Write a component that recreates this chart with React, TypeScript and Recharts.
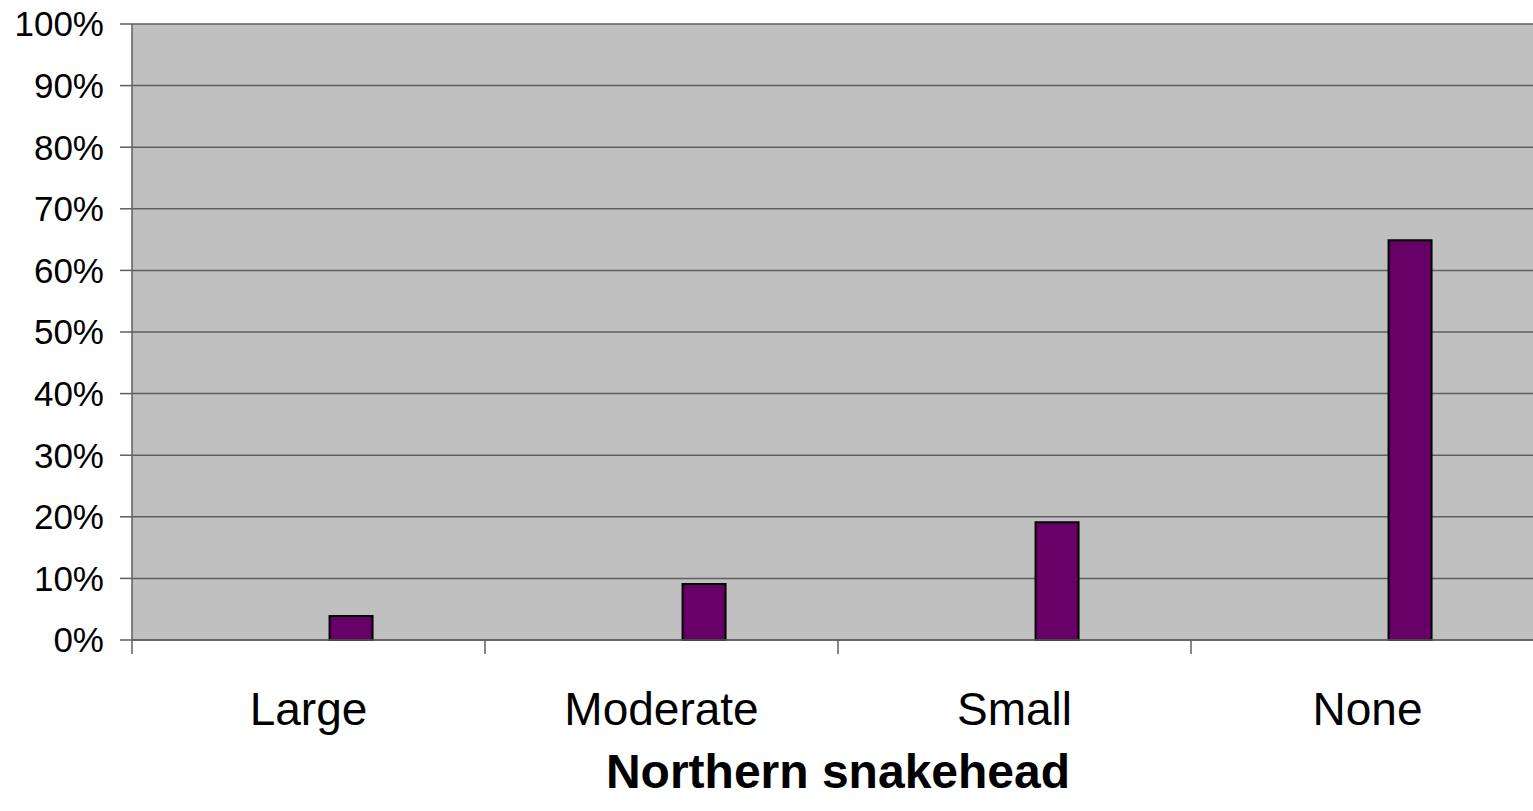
import { Bar, BarChart, CartesianGrid, XAxis, YAxis } from "recharts";

const categories = ["Large", "Moderate", "Small", "None"];
// the original chart reserves two empty series slots before this one
const emptyA: (number | null)[] = [null, null, null, null];
const emptyB: (number | null)[] = [null, null, null, null];
const snakehead = [0.039, 0.091, 0.191, 0.649];
const yTicks = [0, 0.1, 0.2, 0.3, 0.4, 0.5, 0.6, 0.7, 0.8, 0.9, 1];

const data = categories.map((name, i) => ({
  name,
  a: emptyA[i],
  b: emptyB[i],
  value: snakehead[i],
}));

const CHART_W = 1560;
const CHART_H = 811;
const MARGIN = { top: 24, right: 16, left: 0, bottom: 0 };
const Y_W = 132;
const BAND = (CHART_W - MARGIN.left - MARGIN.right - Y_W) / categories.length;
const AXIS = "#5f5f5f";

function CategoryTick({ x, y, payload }: any) {
  return (
    <g>
      <line x1={x - BAND / 2} x2={x - BAND / 2} y1={y} y2={y + 14} stroke={AXIS} strokeWidth={1.5} />
      <text x={x} y={y + 85} textAnchor="middle" fontSize={46} fill="#000" fontFamily="Arial, 'Liberation Sans', sans-serif">
        {payload.value}
      </text>
    </g>
  );
}

export default function App() {
  return (
    <div style={{ position: "absolute", left: 0, top: 0, width: 1533, height: 811, overflow: "hidden", background: "#fff" }}>
      <BarChart width={CHART_W} height={CHART_H} data={data} margin={MARGIN} barCategoryGap="31.6%" barGap={0}>
        <CartesianGrid vertical={false} stroke={AXIS} strokeWidth={1.5} fill="#c0c0c0" fillOpacity={1} />
        <XAxis
          dataKey="name"
          height={171}
          tickSize={0}
          tickMargin={0}
          tickLine={false}
          axisLine={{ stroke: AXIS, strokeWidth: 1.5 }}
          tick={<CategoryTick />}
          interval={0}
          label={{
            value: "Northern snakehead",
            position: "insideBottom",
            offset: 23,
            fontSize: 48,
            fontWeight: "bold",
            fill: "#000",
            fontFamily: "Arial, 'Liberation Sans', sans-serif",
          }}
        />
        <YAxis
          width={Y_W}
          domain={[0, 1]}
          ticks={yTicks}
          interval={0}
          tickFormatter={(v: number) => `${Math.round(v * 100)}%`}
          tickSize={12}
          tickMargin={16}
          tickLine={{ stroke: AXIS, strokeWidth: 1.5 }}
          axisLine={{ stroke: AXIS, strokeWidth: 1.5 }}
          tick={{ fontSize: 35, fill: "#000", fontFamily: "Arial, 'Liberation Sans', sans-serif" }}
        />
        <Bar dataKey="a" fill="none" stroke="none" isAnimationActive={false} />
        <Bar dataKey="b" fill="none" stroke="none" isAnimationActive={false} />
        <Bar dataKey="value" fill="#660066" stroke="#000" strokeWidth={2} isAnimationActive={false} />
      </BarChart>
    </div>
  );
}
